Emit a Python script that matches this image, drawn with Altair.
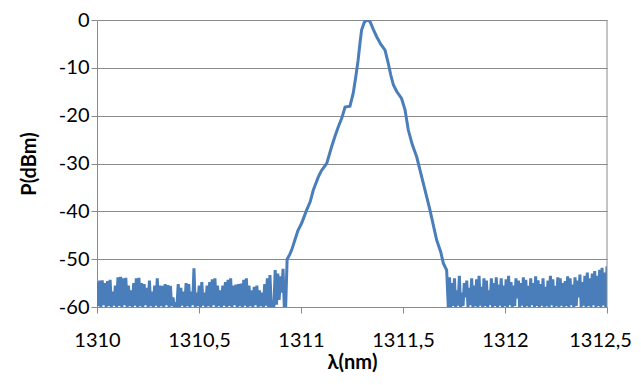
import altair as alt
import numpy as np
import pandas as pd

# Noise floor left of the peak (dBm), sampled on a uniform wavelength grid
left_noise = [
    -55.0, -59.8, -54.5, -60, -54.4, -59.6, -55.0, -60, -54.6, -59.8, -54.3, -60, -56.8, -59.7, -55.5, -60, -53.8, -59.8, -53.7, -60,
    -54.0, -59.6, -53.9, -60, -55.5, -59.8, -56.5, -60, -55.0, -59.7, -54.0, -60, -53.9, -59.8, -55.0, -60, -55.2, -59.6, -56.0, -60,
    -54.5, -59.8, -56.8, -60, -55.5, -59.7, -54.0, -60, -55.5, -59.8, -55.6, -60, -55.2, -59.6, -55.4, -60, -55.6, -59.8, -58.0, -60,
    -59.5, -59.8, -55.2, -60, -56.0, -59.7, -56.8, -60, -55.0, -59.8, -55.2, -60, -56.8, -59.6, -51.9, -60, -57.0, -59.8, -55.5, -60,
    -54.8, -59.7, -57.0, -60, -55.5, -59.8, -54.8, -60, -54.2, -59.6, -54.0, -60, -55.5, -59.8, -56.5, -60, -55.5, -59.7, -54.8, -60,
    -54.3, -59.8, -54.0, -60, -55.5, -59.6, -55.3, -60, -55.2, -59.8, -55.1, -60, -54.3, -59.7, -54.0, -60, -55.5, -59.8, -56.5, -60,
    -55.8, -59.6, -55.5, -60, -56.5, -59.8, -57.0, -60, -55.2, -59.7, -54.0, -60, -53.3, -59.8, -59.8, -60, -52.3, -59.5, -53.0, -58.5,
    -53.6, -57.0, -52.0,
]
left_start, left_end = 1310.0, 1310.912

# Peak (wavelength nm, power dBm)
peak_wl = [1310.918, 1310.925, 1310.932, 1310.945, 1310.955, 1310.97, 1310.985, 1311.003, 1311.028, 1311.045,
           1311.06, 1311.085, 1311.1, 1311.126, 1311.15, 1311.165, 1311.183, 1311.2, 1311.216, 1311.24,
           1311.256, 1311.268, 1311.28, 1311.29, 1311.297, 1311.31, 1311.322, 1311.338, 1311.355, 1311.371,
           1311.39, 1311.412, 1311.428, 1311.44, 1311.453, 1311.47, 1311.493, 1311.51, 1311.526, 1311.545,
           1311.567, 1311.6, 1311.632, 1311.665, 1311.685, 1311.698, 1311.714]
peak_p = [-59.8, -59.8, -50.0, -49.0, -48.0, -46.0, -44.0, -42.5, -39.7, -38.0,
          -35.6, -32.8, -31.5, -30.0, -26.5, -24.5, -22.3, -20.5, -18.2, -18.0,
          -15.3, -12.0, -8.4, -4.5, -2.1, -0.5, 0.0, -0.3, -2.0, -3.5,
          -5.0, -6.3, -9.1, -11.5, -13.6, -15.0, -16.4, -18.8, -23.0, -26.0,
          -28.6, -34.2, -39.7, -46.0, -48.5, -50.9, -52.3]

# Noise floor right of the peak (dBm)
right_noise = [
    -60, -53.8, -60, -55.0, -59.8, -54.0, -60, -56.5, -59.7, -53.5, -60, -57.0, -59.8, -55.0, -58.0, -54.5, -60, -56.0, -59.6, -54.0,
    -60, -55.5, -59.8, -54.2, -60, -53.5, -59.7, -55.8, -60, -54.0, -59.8, -54.5, -60, -56.5, -59.6, -54.0, -60, -55.0, -59.8, -53.8,
    -60, -55.3, -59.7, -54.0, -60, -55.5, -59.8, -54.2, -60, -53.5, -59.6, -54.8, -60, -55.5, -59.8, -54.0, -58.2, -54.5, -60, -55.0,
    -59.7, -53.8, -60, -54.3, -59.8, -55.6, -60, -54.0, -59.6, -55.0, -60, -53.6, -59.8, -54.4, -60, -55.2, -59.7, -54.0, -60, -55.8,
    -59.8, -54.5, -60, -53.5, -59.6, -54.2, -60, -55.6, -59.8, -53.8, -60, -54.0, -59.7, -55.0, -60, -54.6, -59.8, -53.6, -60, -54.0,
    -59.6, -55.3, -60, -53.8, -59.8, -54.5, -58.0, -53.2, -60, -54.8, -59.7, -53.5, -60, -52.8, -59.8, -54.0, -60, -53.0, -59.6, -52.5,
    -60, -53.5, -59.8, -52.2, -60, -51.8, -59.7, -52.8, -60, -51.5,
]
right_start, right_end = 1311.722, 1312.5

x_ticks = [1310, 1310.5, 1311, 1311.5, 1312, 1312.5]
y_ticks = [-60, -50, -40, -30, -20, -10, 0]

wl = list(np.linspace(left_start, left_end, len(left_noise))) + peak_wl + \
    list(np.linspace(right_start, right_end, len(right_noise)))
pw = left_noise + peak_p + right_noise
df = pd.DataFrame({"wl": wl, "p": pw, "i": range(len(wl))})

FONT = "Lato"
GRID = "#8a8a8a"

xs = alt.Scale(domain=[1310, 1312.5], nice=False, zero=False)
ys = alt.Scale(domain=[-60, 0], nice=False, zero=False)

line = alt.Chart(df).mark_line(color="#4a7ebb", strokeWidth=3, clip=True).encode(
    x=alt.X("wl:Q", scale=xs, axis=alt.Axis(
        values=x_ticks, labelExpr="replace(toString(datum.value), '.', ',')",
        labelFlush=False, labelOverlap=False,
        labelOffset={"condition": {"test": "datum.value == 1312.5", "value": -7}, "value": 0},
        grid=False, domainColor=GRID, tickColor=GRID, tickSize=6,
        labelFont=FONT, labelFontSize=20, labelColor="#000000", labelPadding=17,
        title="λ(nm)", titleFont=FONT, titleFontSize=20, titleFontWeight="bold",
        titleColor="#000000", titlePadding=2)),
    y=alt.Y("p:Q", scale=ys, axis=alt.Axis(
        values=y_ticks, labelExpr="toString(datum.value)",
        grid=True, gridColor=GRID, domainColor=GRID, tickColor=GRID, tickSize=6,
        labelFont=FONT, labelFontSize=20, labelColor="#000000", labelPadding=2,
        labelFlush=False, labelOverlap=False,
        title="P(dBm)", titleFont=FONT, titleFontSize=20, titleFontWeight="bold",
        titleColor="#000000", titlePadding=19)),
    order="i:Q",
)

border = alt.Chart(pd.DataFrame({"wl": [1312.5]})).mark_rule(color=GRID, strokeWidth=1).encode(
    x=alt.X("wl:Q", scale=xs)
)

chart = alt.layer(line, border).properties(
    width=510, height=287,
    autosize=alt.AutoSizeParams(type="none"),
    padding={"left": 89, "top": 12, "right": 26, "bottom": 66},
).configure_view(stroke=None)

chart.save("out.html", embed_options={"renderer": "svg", "actions": False})
